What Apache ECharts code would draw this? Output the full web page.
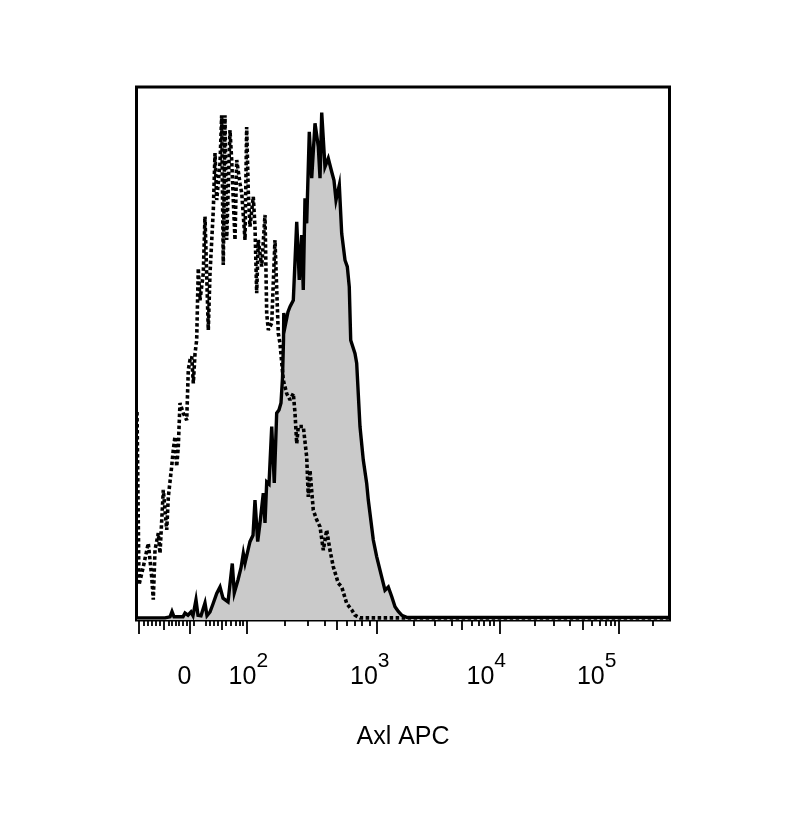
<!DOCTYPE html>
<html><head><meta charset="utf-8">
<script src="https://cdn.jsdelivr.net/npm/echarts@6/dist/echarts.min.js"></script>
<style>html,body{margin:0;padding:0;background:#fff}#c{width:785px;height:815px}</style>
</head><body><div id="c"></div>
<script>
// Display channel (0-1000 across the plot) and % of max count
const axlChannel = [1,53.5,62.9,66.6,70.4,87.2,91.0,96.6,102.2,106.0,111.6,115.4,121.0,128.5,132.3,137.9,143.5,150.5,156.7,162.3,171.7,179.7,183.5,190.4,196.1,200.4,203.6,209.2,212.9,218.6,222.3,227.4,231.7,237.9,241.1,244.3,248.6,253.7,258.5,263.0,267.3,271.1,273.9,275.8,276.3,278.6,284.2,288.0,294.2,300.6,305.4,309.9,312.9,316.1,319.3,324.2,328.7,334.9,341.1,344.3,347.5,353.6,359.8,366.2,370.5,374.3,380.5,385.0,391.2,395.5,399.2,401.9,409.9,413.1,419.3,425.5,431.9,434.9,444.3,450.6,460.0,466.2,472.4,478.8,485.0,491.2,497.5,506.9,999];
const axlCount = [0.4,0.4,0.6,1.6,0.6,0.6,1.3,0.9,1.5,0.8,3.8,0.9,0.8,3.2,0.8,1.5,3.0,5.0,6.2,4.1,3.4,10.6,5.1,7.5,9.8,12.5,10.7,13.1,14.7,15.9,22.5,14.7,18.2,23.8,18.2,25.9,25.5,36.3,25.7,38.8,39.4,40.7,45.4,52.5,57.6,55.0,57.8,58.8,60.0,74.7,63.8,72.2,61.9,79.1,74.4,91.6,82.9,93.2,88.8,82.9,95.2,85.0,86.6,84.1,82.5,78.8,81.6,72.5,67.5,66.3,62.5,52.5,50.0,48.2,36.3,30.0,25.6,22.5,15.0,11.9,8.1,5.6,6.2,4.4,2.5,1.6,0.9,0.5,0.5];
const isoChannel = [1,4.7,6.6,12.8,22.1,25.3,28.5,31.5,34.7,40.9,44.1,50.3,56.7,59.7,66.0,69.0,72.2,75.4,78.4,81.6,87.8,94.2,97.2,100.4,103.6,106.6,109.8,112.9,115.9,119.1,125.3,128.5,134.7,137.9,144.1,147.3,150.5,156.7,159.8,162.8,166.0,169.2,175.4,178.6,181.6,184.8,188.0,194.2,197.4,203.6,206.7,209.8,212.9,219.1,222.3,225.5,228.5,234.9,241.1,244.3,247.3,253.7,259.8,266.0,269.2,275.4,281.8,288.0,294.2,297.4,300.6,303.6,312.9,319.3,322.3,325.5,331.7,338.1,344.3,350.5,356.8,363.0,369.2,378.6,385.0,394.4,403.8,409.9,419.3,999];
const isoCount = [39.0,6.6,6.9,10.0,14.4,11.3,8.1,3.8,13.1,16.3,12.5,24.4,16.9,23.1,28.8,31.9,34.4,28.8,32.5,40.7,38.8,37.5,46.9,48.8,49.4,44.4,50.0,52.5,66.0,60.0,65.0,75.7,54.4,65.0,76.9,87.6,78.8,85.7,94.7,66.6,94.7,71.3,91.9,86.3,78.8,71.3,86.3,81.9,80.1,71.3,92.5,80.1,73.8,79.4,73.8,61.3,71.3,66.3,76.0,57.5,54.4,55.7,71.3,53.8,51.9,45.0,42.5,41.3,42.5,38.8,33.1,36.3,36.3,30.6,23.1,28.1,20.6,18.8,17.5,13.1,16.9,13.1,10.0,6.9,6.2,3.1,1.9,0.9,0.4,0.4];

const majorTicks = [3.4,100.4,207.3,451.2,680.6,903.9];
const mediumTicks = [50.3,159.5,376.2,610.1,837.1];
const minorTicks = [13.1,21.2,29.1,36.6,44.1,59.7,66.6,73.2,79.7,86.3,93.8,107.9,130.4,137.9,145.4,152.9,167.9,177.3,185.7,193.2,199.8,278.0,321.2,353.1,394.9,409.3,423.0,436.7,519.3,560.0,591.3,628.8,641.2,651.9,661.9,671.2,747.6,781.9,813.3,854.0,868.2,880.2,889.6,897.7,969.0];
const labelPositions = [90.0,209.8,437.7,656.3,863.4];
const labelBase = ['0','10','10','10','10'];
const labelExp = ['','2','3','4','5'];
const xTitle = 'Axl APC';

const FONT = '"Liberation Sans", Arial, sans-serif';
function zip(a,b){return a.map((v,i)=>[v,b[i]]);}
function tickAxis(values, len){
  return {
    type:'value', gridIndex:0, position:'bottom', min:0, max:1000,
    axisLine:{show:false}, splitLine:{show:false},
    axisTick:{show:true, length:len, customValues:values, lineStyle:{color:'#000', width:1.8}},
    axisLabel:{show:false}
  };
}
const chart = echarts.init(document.getElementById('c'));
chart.setOption({
  animation:false,
  backgroundColor:'#fff',
  grid:{left:136.5, top:87, width:533, height:533, show:true, borderColor:'#000', borderWidth:3, backgroundColor:'transparent'},
  xAxis:[
    tickAxis(minorTicks, 6),
    tickAxis(mediumTicks, 10),
    tickAxis(majorTicks, 14),
    {
      type:'value', gridIndex:0, position:'bottom', min:0, max:1000,
      axisLine:{show:false}, splitLine:{show:false}, axisTick:{show:false},
      axisLabel:{show:true, customValues:labelPositions, margin:31,
        formatter:function(v){
          let k=0,d=1e9; labelPositions.forEach((p,i)=>{if(Math.abs(p-v)<d){d=Math.abs(p-v);k=i;}});
          return labelExp[k] ? '{b|'+labelBase[k]+'}{s|'+labelExp[k]+'}' : '{b|'+labelBase[k]+'}';
        },
        rich:{
          b:{fontSize:25, lineHeight:52, fontFamily:FONT, color:'#000'},
          s:{fontSize:21, lineHeight:20, verticalAlign:'top', fontFamily:FONT, color:'#000'}
        }
      },
      name:xTitle, nameLocation:'middle', nameGap:105,
      nameTextStyle:{fontSize:25, fontFamily:FONT, color:'#000'}
    }
  ],
  yAxis:{type:'value', min:0, max:100, show:false},
  series:[
    {type:'line', xAxisIndex:0, data:zip(axlChannel, axlCount), showSymbol:false, symbol:'none',
     lineStyle:{color:'#000', width:3.4, join:'miter'}, areaStyle:{color:'#cacaca', opacity:1}, z:2},
    {type:'line', xAxisIndex:0, data:zip(isoChannel, isoCount), showSymbol:false, symbol:'none',
     lineStyle:{color:'#000', width:3.6, type:[3.5,2.5], cap:'butt'}, z:3}
  ]
});
</script></body></html>
